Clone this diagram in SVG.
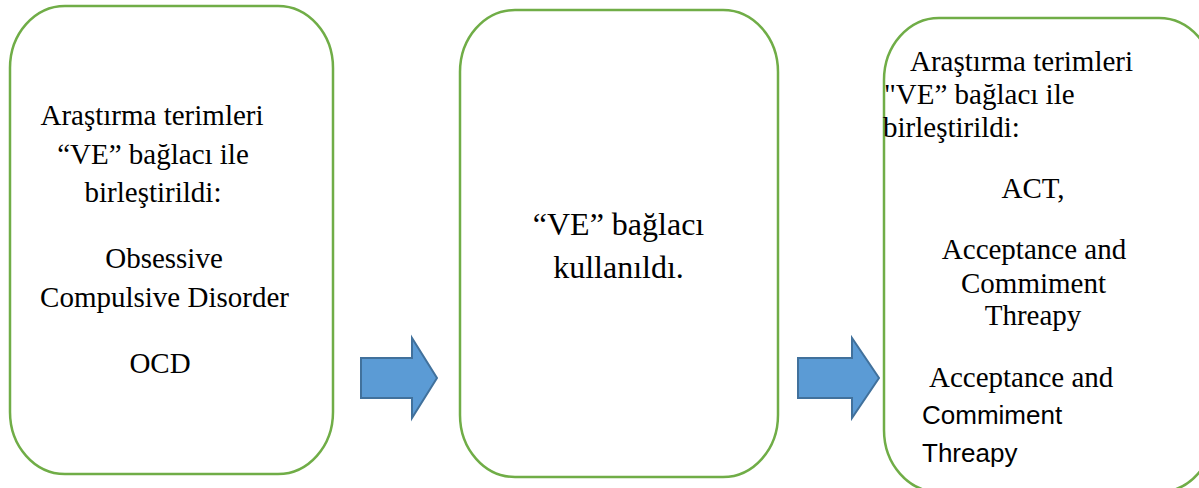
<svg xmlns="http://www.w3.org/2000/svg" width="1199" height="488" viewBox="0 0 1199 488">
<style>
.box{fill:#fff;stroke:#70AD47;stroke-width:2.5}
.arr{fill:#5B9BD5;stroke:#41719C;stroke-width:2;stroke-linejoin:miter}
.t{font-family:"Liberation Serif","Times New Roman",serif;font-size:29px;fill:#000}
.tb{font-family:"Liberation Serif","Times New Roman",serif;font-size:32px;fill:#000}
.s{font-family:"Liberation Sans",Arial,sans-serif;font-size:26px;fill:#000}
</style>
<rect width="1199" height="488" fill="#fff"/>
<g id="node1">
<rect class="box" x="10" y="6" width="323" height="468" rx="55" ry="62"/>
<text class="t" text-anchor="middle" x="152" y="125">Araştırma terimleri</text>
<text class="t" text-anchor="middle" x="153" y="164">“VE” bağlacı ile</text>
<text class="t" text-anchor="middle" x="153" y="202">birleştirildi:</text>
<text class="t" text-anchor="middle" x="164" y="268">Obsessive</text>
<text class="t" text-anchor="middle" x="164.5" y="307">Compulsive Disorder</text>
<text class="t" text-anchor="middle" x="160" y="373">OCD</text>
</g>
<g id="node2">
<rect class="box" x="460" y="10" width="318" height="467" rx="55" ry="62"/>
<text class="tb" text-anchor="middle" x="618.5" y="235">“VE” bağlacı</text>
<text class="tb" text-anchor="middle" x="618.5" y="278">kullanıldı.</text>
</g>
<g id="node3">
<rect class="box" x="884" y="18" width="330" height="474" rx="55" ry="62"/>
<text class="t" x="910" y="71">Araştırma terimleri</text>
<text class="t" x="884" y="104">"VE” bağlacı ile</text>
<text class="t" x="883" y="137">birleştirildi:</text>
<text class="t" text-anchor="middle" x="1033" y="198">ACT,</text>
<text class="t" text-anchor="middle" x="1034" y="259">Acceptance and</text>
<text class="t" text-anchor="middle" x="1033.5" y="293">Commiment</text>
<text class="t" text-anchor="middle" x="1033" y="325">Threapy</text>
<text class="t" x="929" y="387">Acceptance and</text>
<text class="s" x="922" y="424">Commiment</text>
<text class="s" x="922" y="462">Threapy</text>
</g>
<g id="connectors">
<polygon class="arr" points="361,358 412,358 412,338 437,378 412,418 412,398 361,398"/>
<polygon class="arr" points="798,358 852,358 852,338 879,378 852,418 852,398 798,398"/>
</g>
</svg>
